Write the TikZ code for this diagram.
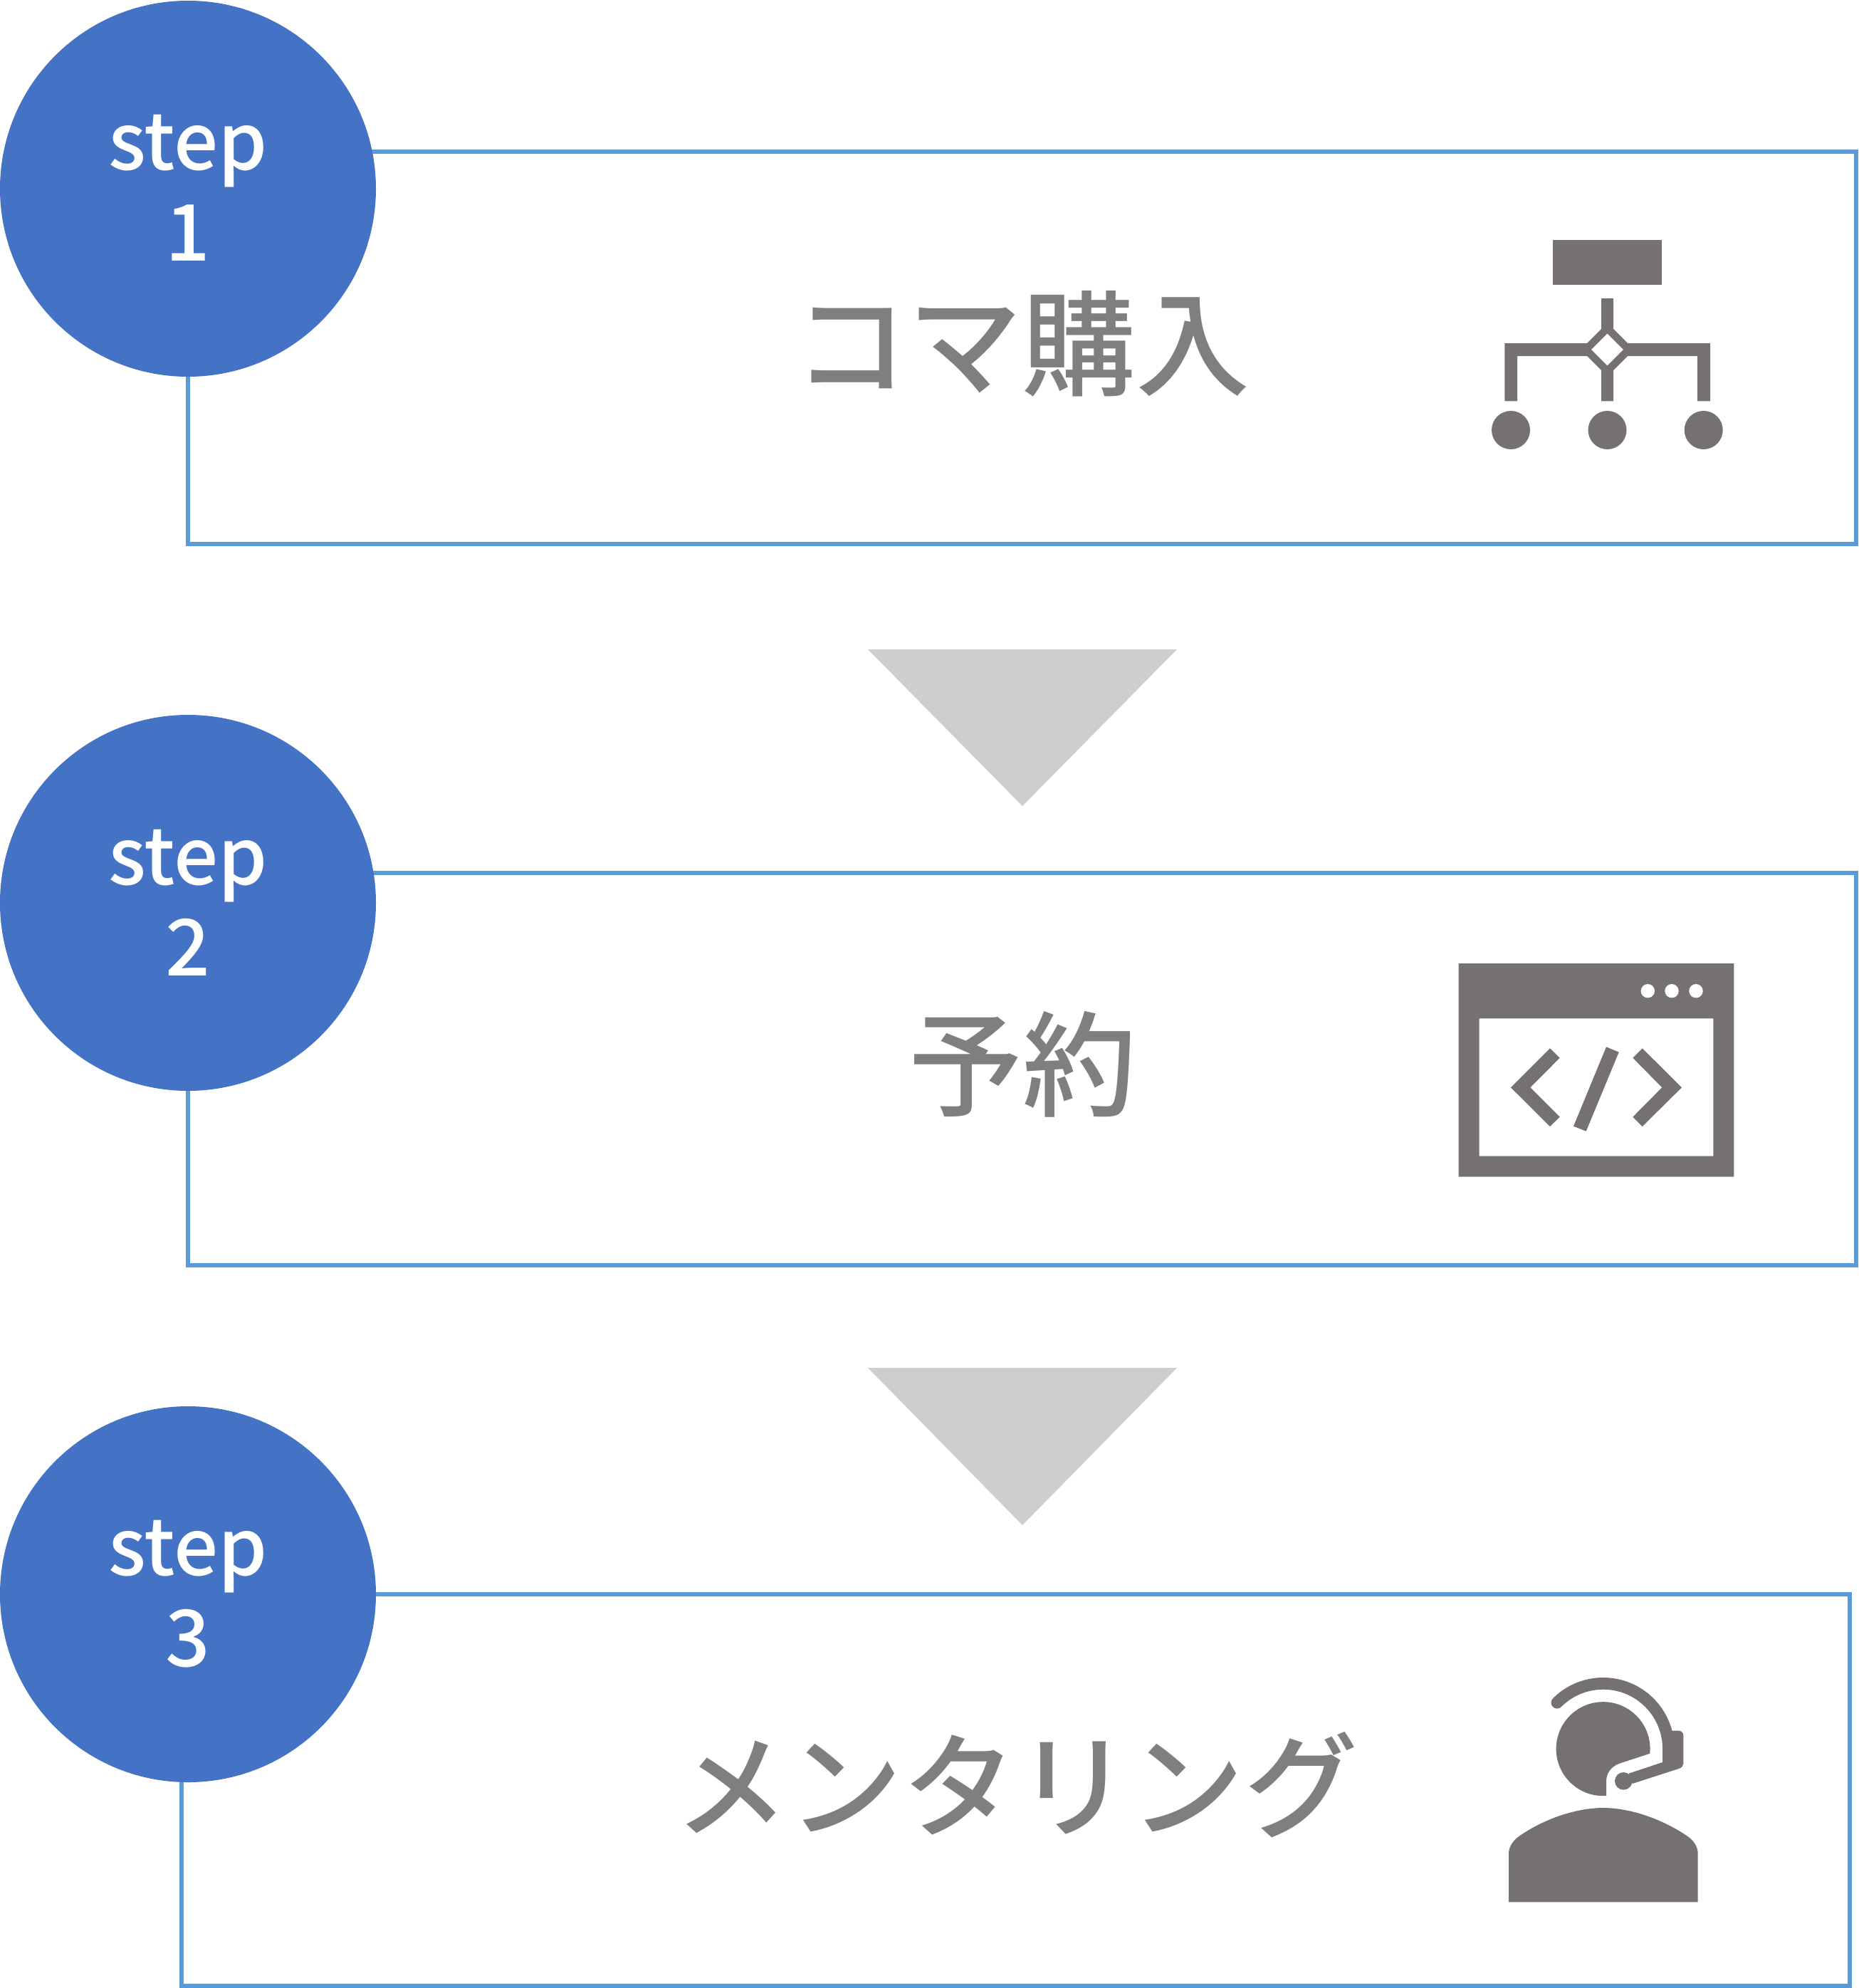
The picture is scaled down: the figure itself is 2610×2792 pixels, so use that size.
\documentclass[tikz,border=0pt]{standalone}
\usepackage{fontspec}
\setmainfont{Noto Sans CJK JP Medium}
\definecolor{stepblue}{HTML}{4472C4}
\definecolor{linkblue}{HTML}{5B9BD5}
\definecolor{arrowgrey}{HTML}{CFCDCD}
\definecolor{icongrey}{HTML}{767171}
\definecolor{titlegrey}{HTML}{7F7F7F}
\tikzset{
  stepdisc/.style={circle,fill=stepblue,draw=none,minimum size=528pt,inner sep=0pt},
  steplabel/.style={text=white,align=center,inner sep=0pt,font=\fontsize{110}{128}\selectfont},
  framebox/.style={draw=linkblue,line width=5.5pt,fill=white},
  titletext/.style={text=titlegrey,inner sep=0pt,font=\fontsize{160}{165}\selectfont},
  downarrow/.style={fill=arrowgrey,draw=none},
  icon/.style={fill=icongrey,draw=none},
}
\begin{document}
\begin{tikzpicture}[x=1pt,y=-1pt]
\useasboundingbox (0,0) rectangle (2610,2792);
\fill[white] (0,0) rectangle (2610,2792);
% frames
\draw[framebox] (264,213) rectangle (2607,764);
\draw[framebox] (264,1226) rectangle (2607,1777);
\draw[framebox] (255,2239) rectangle (2598,2789);
% discs
\node[stepdisc] (c1) at (264,265) {};
\node[stepdisc] (c2) at (264,1268) {};
\node[stepdisc] (c3) at (264,2239) {};
\node[steplabel] (s1) at (264,264) {step\\1};
\node[steplabel] (s2) at (264,1268) {step\\2};
\node[steplabel] (s3) at (264,2239) {step\\3};
% triangles
\fill[downarrow] (1219,912) -- (1653,912) -- (1436,1132) -- cycle;
\fill[downarrow] (1219,1921) -- (1653,1921) -- (1436,2142) -- cycle;
% titles
\node[titletext] (t1) at (1435,483) {コマ購入};
\node[titletext] (t2) at (1436,1495) {予約};
\node[titletext] (t3) at (1427,2507) {メンタリング};
\begin{scope}[shift={(1,0)}]
% icon 1: hierarchy
\fill[icon] (2180,337) rectangle (2333,400);
\fill[icon,even odd rule]
  (2248,419) -- (2265,419) -- (2265,462) -- (2285,482) -- (2401,482) -- (2401,563.3) -- (2383,563.3) -- (2383,500)
  -- (2285,500) -- (2265,520) -- (2265,563.3) -- (2248,563.3) -- (2248,520) -- (2228,500) -- (2130,500)
  -- (2130,563.3) -- (2112.3,563.3) -- (2112.3,482) -- (2228,482) -- (2248,462) -- cycle
  (2256.5,468.3) -- (2279.2,491) -- (2256.5,513.7) -- (2233.8,491) -- cycle;
\fill[icon] (2121,604) circle[radius=27];
\fill[icon] (2256.5,604) circle[radius=27];
\fill[icon] (2391.7,604) circle[radius=27];
% icon 2: window
\fill[icon,even odd rule] (2047.7,1353) rectangle (2434.3,1652.7) (2076.7,1430.3) rectangle (2405.3,1623.7);
\fill[white] (2313.3,1391.7) circle[radius=9.7];
\fill[white] (2347,1391.7) circle[radius=9.7];
\fill[white] (2381,1391.7) circle[radius=9.7];
\fill[icon] (2121,1527.3) -- (2176,1472.3) -- (2189.7,1485.7) -- (2148.3,1527.3) -- (2189.7,1568.7) -- (2176,1582) -- cycle;
\fill[icon] (2255,1470.3) -- (2272.7,1477.7) -- (2226.7,1588.7) -- (2209,1581.7) -- cycle;
\fill[icon] (2361,1527.3) -- (2305.7,1472.3) -- (2292.3,1485.7) -- (2333.3,1527.3) -- (2292.3,1568.7) -- (2305.7,1582) -- cycle;
% icon 3: operator
\fill[icon] (2118,2671.3) -- (2118,2603.3) .. controls (2118,2593) and (2125,2584) .. (2133.3,2578.3)
  .. controls (2170,2553) and (2215,2539) .. (2250.7,2539)
  .. controls (2286,2539) and (2331,2553) .. (2368.3,2578.3)
  .. controls (2377,2584) and (2383.7,2593) .. (2383.7,2603.3) -- (2383.7,2671.3) -- cycle;
\fill[icon] (2255,2522) arc[start angle=86.2,end angle=365.7,radius=66]
  -- (2273.3,2476.7) .. controls (2262,2481) and (2255,2490) .. (2255,2501.7) -- cycle;
\draw[icongrey,line width=16.67pt,line cap=round] (2185.9,2391.2) arc[start angle=225,end angle=360,radius=91.67];
\fill[icon] (2334,2456) -- (2334,2475) -- (2286.7,2490.7) -- (2291.7,2505) -- (2356.7,2484)
  .. controls (2361,2482.5) and (2363.3,2480) .. (2363.3,2476.7) -- (2363.3,2437.3)
  .. controls (2363.3,2433) and (2360,2430.7) .. (2356.7,2430.7) -- (2346.7,2430.7) -- cycle;
\fill[icon] (2279.3,2501.3) circle[radius=12.3];
\end{scope}
\end{tikzpicture}
\end{document}
